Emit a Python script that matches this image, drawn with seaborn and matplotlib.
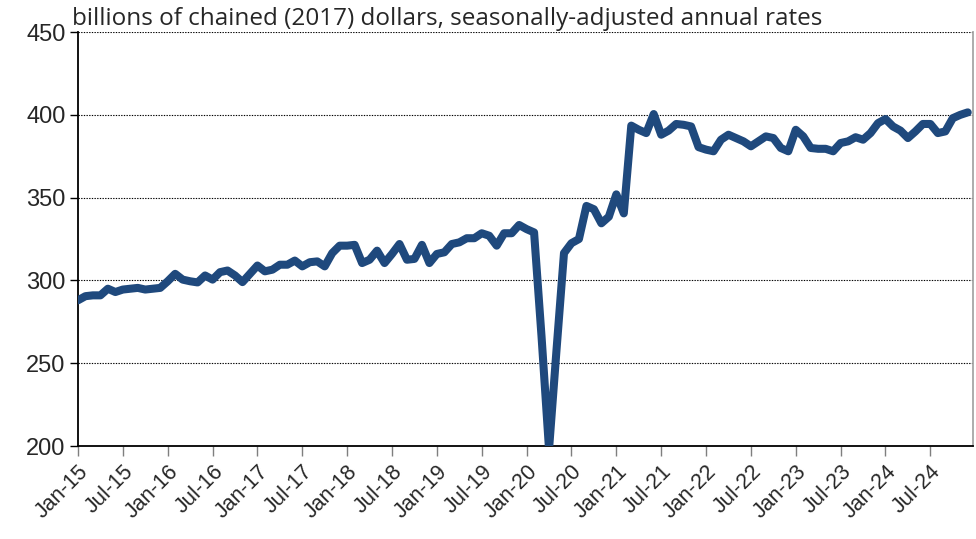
import matplotlib
matplotlib.use("Agg")
import matplotlib.pyplot as plt
import seaborn as sns
import pandas as pd
import numpy as np

# Monthly values, Jan-2015 .. Dec-2024
values = [
    288, 290.5, 291, 291, 295, 293, 294.5, 295, 295.5, 294.5, 295, 295.5,        # 2015
    299.5, 304, 300.5, 299.5, 298.8, 303, 300.5, 305, 306, 303, 299, 304,        # 2016
    309, 305.5, 306.5, 309.5, 309.5, 312, 308.5, 311, 311.5, 308.5, 316.5, 321,  # 2017
    321, 321.5, 310.5, 312.5, 318, 310.5, 316, 322, 312.5, 313, 321.5, 310.5,    # 2018
    316, 317, 322, 323, 325.5, 325.5, 328.5, 327, 321, 328.5, 328.5, 333.5,      # 2019
    331, 329, 266, 198, 258, 316.5, 322.5, 325, 345, 343, 334.5, 338.5,          # 2020
    352, 340.5, 393.5, 391, 389, 400.5, 388, 390.5, 394.5, 394, 393, 380.5,      # 2021
    379, 378, 385, 388, 386, 384, 381, 384, 387, 386, 380, 378,                  # 2022
    391, 387, 380, 379.5, 379.5, 378, 383, 384, 386.5, 385, 389, 395,            # 2023
    397.5, 393, 390.5, 386, 390, 394.5, 394.5, 389, 390, 398, 400, 401.5,        # 2024
]
tick_labels = ["Jan-15", "Jul-15", "Jan-16", "Jul-16", "Jan-17", "Jul-17", "Jan-18",
               "Jul-18", "Jan-19", "Jul-19", "Jan-20", "Jul-20", "Jan-21", "Jul-21",
               "Jan-22", "Jul-22", "Jan-23", "Jul-23", "Jan-24", "Jul-24"]
y_ticks = [200, 250, 300, 350, 400, 450]
subtitle = "billions of chained (2017) dollars, seasonally-adjusted annual rates"

df = pd.DataFrame({"month": np.arange(len(values)), "value": values})

sns.set_style("white")
plt.rcParams["font.family"] = ["Open Sans", "DejaVu Sans"]

fig = plt.figure(figsize=(9.76, 5.39), dpi=100)
ax = fig.add_axes([0.0799, 0.1725, 0.917, 0.768])

for y in y_ticks[1:]:
    ax.axhline(y, color="black", lw=0.8, ls=(0, (1.2, 1.2)), zorder=1)

sns.lineplot(data=df, x="month", y="value", ax=ax, color="#1F497D", lw=5.8,
             solid_capstyle="round", solid_joinstyle="round", zorder=3)

ax.set_xlim(0, 119.7)
ax.set_ylim(200, 450)
ax.set_xticks(np.arange(0, 120, 6))
ax.set_xticklabels(tick_labels, rotation=45, ha="right", rotation_mode="anchor",
                   fontsize=15.5, family=["Liberation Sans", "DejaVu Sans"])
ax.set_yticks(y_ticks)
ax.set_yticklabels([str(v) for v in y_ticks], fontsize=17,
                   family=["Liberation Sans", "DejaVu Sans"])
ax.tick_params(axis="x", which="both", direction="out", length=7, width=1,
               color="#7f7f7f", pad=4, bottom=True)
ax.tick_params(axis="y", which="both", direction="out", length=6, width=1,
               color="black", pad=3, left=True)
ax.set_xlabel("")
ax.set_ylabel("")

for side in ["left", "bottom"]:
    ax.spines[side].set_color("black")
    ax.spines[side].set_linewidth(1.3)
ax.spines["top"].set_visible(False)
ax.spines["right"].set_color("#a6a6a6")
ax.spines["right"].set_linewidth(1.3)

fig.text(72 / 976, 1 - 25 / 539, subtitle, fontsize=17.5, ha="left", va="baseline")

fig.savefig("out.png", dpi=100)
